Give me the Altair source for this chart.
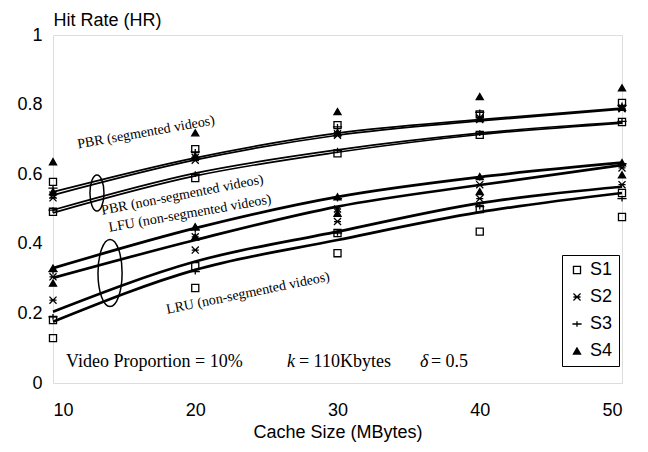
import altair as alt
import pandas as pd

# ---------------- data ----------------
cache_mb = [10, 20, 30, 40, 50]

# fitted curves (two per policy group)
pbr_seg_a = [0.549, 0.647, 0.718, 0.757, 0.790]
pbr_seg_b = [0.540, 0.641, 0.712, 0.753, 0.787]
pbr_non_a = [0.497, 0.603, 0.670, 0.718, 0.750]
pbr_non_b = [0.489, 0.595, 0.663, 0.714, 0.747]
lfu_a = [0.330, 0.445, 0.535, 0.592, 0.633]
lfu_b = [0.302, 0.411, 0.507, 0.569, 0.626]
lru_a = [0.205, 0.349, 0.435, 0.517, 0.564]
lru_b = [0.176, 0.325, 0.411, 0.491, 0.546]

# simulated points per scenario S1..S4
series_names = ["S1", "S2", "S3", "S4"]
pbr_seg_pts = {
    "S1": [0.578, 0.672, 0.741, 0.772, 0.805],
    "S2": [0.540, 0.648, 0.716, 0.762, 0.790],
    "S3": [0.560, 0.664, 0.736, 0.778, 0.798],
    "S4": [0.636, 0.719, 0.780, 0.823, 0.848],
}
pbr_non_pts = {
    "S1": [0.492, 0.589, 0.660, 0.713, 0.750],
    "S2": [0.532, 0.640, 0.712, 0.757, 0.788],
    "S3": [0.497, 0.600, 0.668, 0.718, 0.752],
    "S4": [0.550, 0.652, 0.720, 0.760, 0.792],
}
lfu_pts = {
    "S1": [0.181, 0.336, 0.431, 0.500, 0.546],
    "S2": [0.305, 0.420, 0.500, 0.570, 0.618],
    "S3": [0.320, 0.440, 0.530, 0.590, 0.630],
    "S4": [0.330, 0.449, 0.535, 0.593, 0.633],
}
lru_pts = {
    "S1": [0.129, 0.273, 0.373, 0.435, 0.477],
    "S2": [0.238, 0.382, 0.464, 0.530, 0.570],
    "S3": [0.190, 0.320, 0.431, 0.507, 0.530],
    "S4": [0.287, 0.420, 0.488, 0.550, 0.598],
}

x_ticks = [10, 20, 30, 40, 50]
y_ticks = [0, 0.2, 0.4, 0.6, 0.8, 1.0]

# ---------------- tables ----------------
def line_df(curves):
    rows = []
    for name, vals in curves.items():
        for xv, yv in zip(cache_mb, vals):
            rows.append({"curve": name, "x": xv, "y": yv})
    return pd.DataFrame(rows)

thin_lines = line_df({"pbr_seg_a": pbr_seg_a, "pbr_seg_b": pbr_seg_b,
                      "pbr_non_a": pbr_non_a, "pbr_non_b": pbr_non_b})
thick_lines = line_df({"lfu_a": lfu_a, "lfu_b": lfu_b,
                       "lru_a": lru_a, "lru_b": lru_b})

pt_rows = []
for grp, d in [("PBR seg", pbr_seg_pts), ("PBR non", pbr_non_pts),
               ("LFU", lfu_pts), ("LRU", lru_pts)]:
    for s in series_names:
        for xv, yv in zip(cache_mb, d[s]):
            pt_rows.append({"group": grp, "series": s, "x": xv, "y": yv})
points = pd.DataFrame(pt_rows)

xscale = alt.Scale(domain=[10, 50], nice=False, zero=False)
yscale = alt.Scale(domain=[0, 1], nice=False)

FONT_SANS = "Liberation Sans"
FONT_SERIF = "Liberation Serif"

xenc = alt.X("x:Q", scale=xscale,
             axis=alt.Axis(values=x_ticks, title="Cache Size (MBytes)", ticks=False,
                           domain=False, grid=False, labelFontSize=18, labelFont=FONT_SANS,
                           labelPadding=18, labelColor="black",
                           titleFont=FONT_SANS, titleFontSize=18, titleFontWeight="normal",
                           titlePadding=4, titleColor="black"))
yenc = alt.Y("y:Q", scale=yscale,
             axis=alt.Axis(values=y_ticks, format="~g", title="Hit Rate (HR)", ticks=False,
                           domain=False, grid=False, labelFontSize=18, labelFont=FONT_SANS,
                           labelPadding=11, labelColor="black",
                           titleFont=FONT_SANS, titleFontSize=18, titleFontWeight="normal",
                           titleAngle=0, titleAlign="left", titleBaseline="alphabetic",
                           titleX=0, titleY=-10, titleColor="black"))

thin = alt.Chart(thin_lines).mark_line(color="black", strokeWidth=1.7,
                                       interpolate="monotone").encode(
    x=xenc, y=yenc, detail="curve:N")
thick = alt.Chart(thick_lines).mark_line(color="black", strokeWidth=2.7,
                                         interpolate="monotone").encode(
    x="x:Q", y="y:Q", detail="curve:N")

shape_paths = ["square",
               "M-1,-1L1,1M-1,1L1,-1M-1,0L1,0",
               "M-1.3,0L1.3,0M0,-0.8L0,0.8",
               "triangle-up"]
fills = ["transparent", "transparent", "transparent", "black"]
strokes = ["black", "black", "black", "black"]

leg = alt.Legend(title=None, orient="none", legendX=509, legendY=220,
                 strokeColor="black", padding=6, rowPadding=9, labelOffset=4,
                 labelFontSize=18, labelFont=FONT_SANS, labelColor="black",
                 symbolSize=50, symbolStrokeWidth=1.3, fillColor="white")

pts = alt.Chart(points).mark_point(strokeWidth=1.3, size=50, opacity=1).encode(
    x="x:Q", y="y:Q",
    shape=alt.Shape("series:N", scale=alt.Scale(domain=series_names, range=shape_paths),
                    legend=leg),
    fill=alt.Fill("series:N", scale=alt.Scale(domain=series_names, range=fills),
                  legend=leg),
    stroke=alt.Stroke("series:N", scale=alt.Scale(domain=series_names, range=strokes),
                      legend=leg),
)

# curve labels
curve_labels = [
    ("PBR (segmented videos)", 16.54, 0.720, 350),
    ("PBR (non-segmented videos)", 19.10, 0.540, 349),
    ("LFU (non-segmented videos)", 19.63, 0.487, 350),
    ("LRU (non-segmented videos)", 23.71, 0.258, 348.5),
]
text_layers = []
for txt, xv, yv, ang in curve_labels:
    text_layers.append(
        alt.Chart(pd.DataFrame({"x": [xv], "y": [yv], "t": [txt]})).mark_text(
            font=FONT_SERIF, fontSize=14, angle=ang, align="center", baseline="middle",
            color="black").encode(x="x:Q", y="y:Q", text="t:N"))

notes_plain = [("Video Proportion = 10%", 10.92, 0.046), ("= 110Kbytes", 27.29, 0.046),
               ("= 0.5", 36.57, 0.046)]
notes_italic = [("k", 26.45, 0.046), ("δ", 35.80, 0.046)]
for txt, xv, yv in notes_plain:
    text_layers.append(
        alt.Chart(pd.DataFrame({"x": [xv], "y": [yv], "t": [txt]})).mark_text(
            font=FONT_SERIF, fontSize=18, align="left", baseline="alphabetic",
            color="black").encode(x="x:Q", y="y:Q", text="t:N"))
for txt, xv, yv in notes_italic:
    text_layers.append(
        alt.Chart(pd.DataFrame({"x": [xv], "y": [yv], "t": [txt]})).mark_text(
            font=FONT_SERIF, fontSize=18, fontStyle="italic", align="left",
            baseline="alphabetic", color="black").encode(x="x:Q", y="y:Q", text="t:N"))

# ellipses grouping curves
ell_upper = alt.Chart(pd.DataFrame({"x": [13.09], "y": [0.546]})).mark_point(
    shape="M0,-1A0.39,1 0 1,1 0,1A0.39,1 0 1,1 0,-1", size=1296, filled=False,
    stroke="black", strokeWidth=1.5, opacity=1).encode(x="x:Q", y="y:Q")
ell_lower = alt.Chart(pd.DataFrame({"x": [14.01], "y": [0.316]})).mark_point(
    shape="M0,-1A0.36,1 0 1,1 0,1A0.36,1 0 1,1 0,-1", size=4489, filled=False,
    stroke="black", strokeWidth=1.5, opacity=1).encode(x="x:Q", y="y:Q")

chart = alt.layer(thin, thick, pts, ell_upper, ell_lower, *text_layers).properties(
    width=569, height=348,
    autosize=alt.AutoSizeParams(type="none"),
    padding={"left": 45, "top": 27, "right": 18, "bottom": 61},
).configure_view(stroke="black", strokeWidth=1.5).configure(background="white")

chart.save("out.html", embed_options={"renderer": "svg", "actions": False})
